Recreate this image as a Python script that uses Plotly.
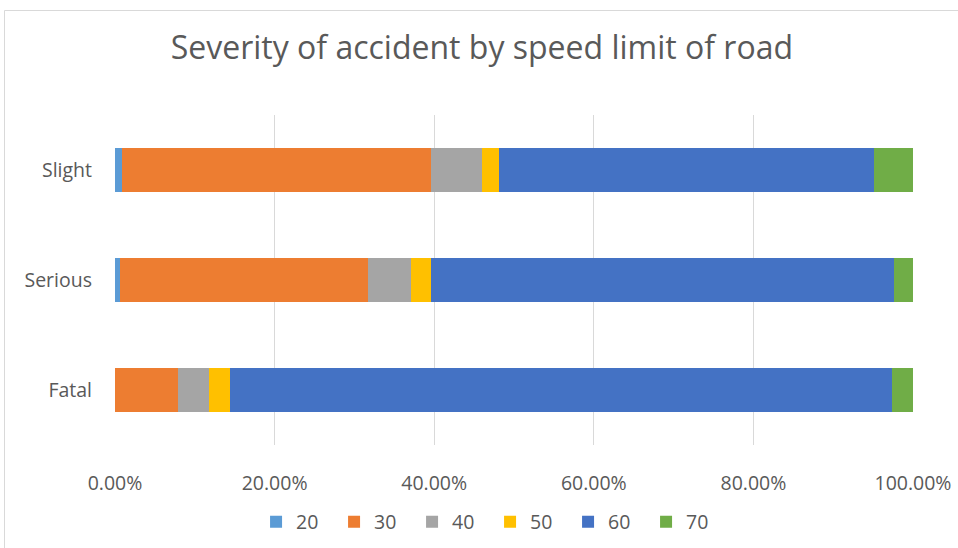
import plotly.graph_objects as go

# Share of accidents (%) for each speed limit, per severity
severities = ["Fatal", "Serious", "Slight"]
speed_limits = ["20", "30", "40", "50", "60", "70"]
share_20 = [0.05, 0.6, 0.85]
share_30 = [7.8, 31.1, 38.75]
share_40 = [3.9, 5.4, 6.4]
share_50 = [2.65, 2.5, 2.1]
share_60 = [83.0, 58.0, 47.0]
share_70 = [2.6, 2.4, 4.9]
tick_values = [0, 20, 40, 60, 80, 100]
tick_labels = ["0.00%", "20.00%", "40.00%", "60.00%", "80.00%", "100.00%"]

series = [share_20, share_30, share_40, share_50, share_60, share_70]
colors = ["#5B9BD5", "#ED7D31", "#A5A5A5", "#FFC000", "#4472C4", "#70AD47"]

font_family = "Open Sans, sans-serif"
text_color = "#595959"

W, H = 958, 548
ML, MR, MT, MB = 115, 45, 115, 103

fig = go.Figure()
for name, vals, col in zip(speed_limits, series, colors):
    fig.add_trace(go.Bar(
        y=severities, x=vals, name=name, orientation="h",
        marker=dict(color=col, line=dict(width=0)),
        hoverinfo="skip",
    ))

fig.update_layout(
    barmode="stack",
    bargap=0.6,
    width=W, height=H,
    margin=dict(l=ML, r=MR, t=MT, b=MB, autoexpand=False),
    paper_bgcolor="white", plot_bgcolor="white",
    font=dict(family=font_family, color=text_color, size=19),
    title=dict(
        text="Severity of accident by speed limit of road",
        x=0.503, xanchor="center", y=1 - 48 / H, yanchor="middle",
        font=dict(family=font_family, size=32, color=text_color),
    ),
    xaxis=dict(
        range=[0, 100], tickvals=tick_values, ticktext=tick_labels,
        showgrid=True, gridcolor="#D9D9D9", gridwidth=1,
        zeroline=False, showline=False, ticks="",
        ticklabelstandoff=24,
        tickfont=dict(size=19.5, color=text_color, family=font_family),
        fixedrange=True,
    ),
    yaxis=dict(
        showgrid=False, zeroline=False, showline=False, ticks="",
        ticklabelstandoff=22,
        tickfont=dict(size=19.5, color=text_color, family=font_family),
        fixedrange=True,
    ),
    legend=dict(
        orientation="h", x=0.47, xanchor="center",
        yref="container", y=1 - 522 / H, yanchor="middle",
        traceorder="normal",
        font=dict(size=19.5, color=text_color, family=font_family),
        itemwidth=30, entrywidth=33, entrywidthmode="pixels",
    ),
    shapes=[dict(
        type="rect", xref="paper", yref="paper",
        x0=-(ML - 4.5) / (W - ML - MR), x1=1.2,
        y0=-0.5, y1=1 + (MT - 10.5) / (H - MT - MB),
        line=dict(color="#D9D9D9", width=1), fillcolor="rgba(0,0,0,0)",
        layer="below",
    )],
)

fig.write_html("out.html")
